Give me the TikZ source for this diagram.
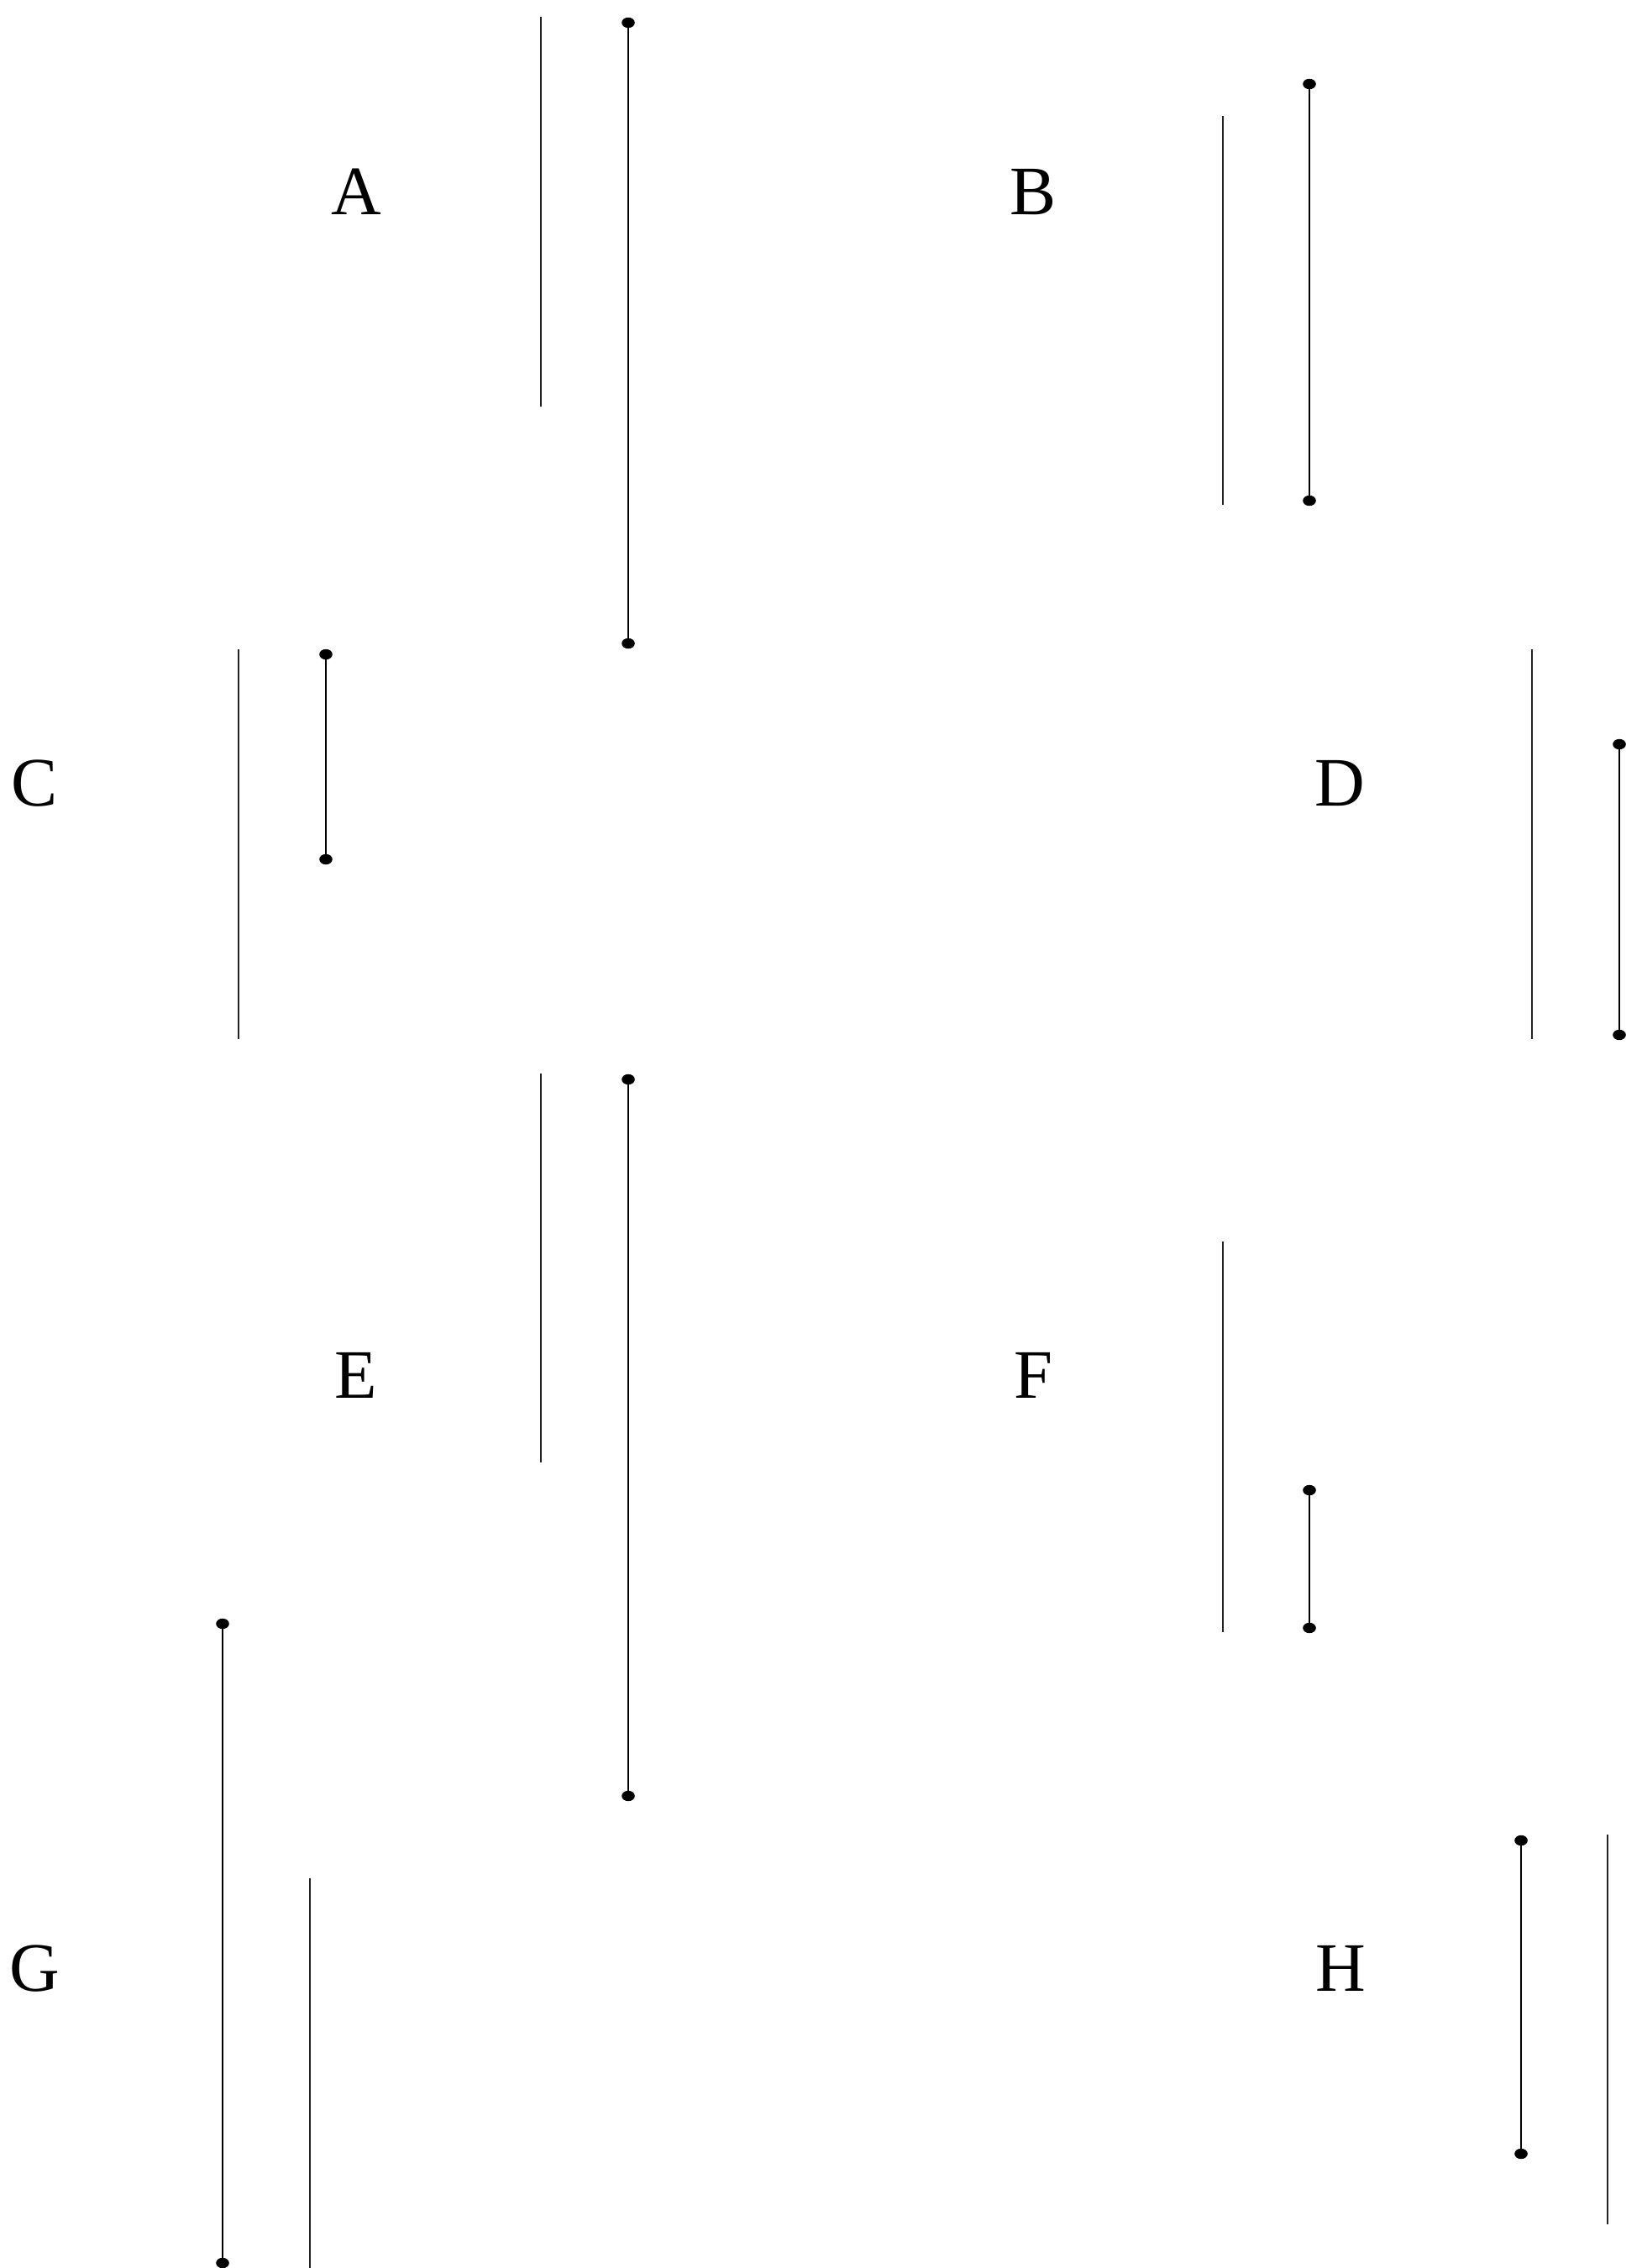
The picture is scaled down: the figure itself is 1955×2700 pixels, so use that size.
\documentclass[tikz,border=0pt]{standalone}
\usepackage{fontspec}
\setmainfont{Liberation Serif}
\usepackage{tikz}
\usetikzlibrary{positioning}
\definecolor{cBar}{RGB}{35,35,35}
\definecolor{cPin}{RGB}{0,0,0}

\tikzset{
  bar/.style={cBar,line width=0.6pt},
  pin/.style={cPin,line width=0.6pt},
  tag/.style={anchor=base,inner sep=0pt,font=\fontsize{23.5}{28}\selectfont},
}
\newcommand{\pinhead}[1]{\fill[cPin] (#1) ellipse [x radius=0.078cm, y radius=0.062cm];}

\begin{document}
\begin{tikzpicture}[x=0.01cm,y=-0.01cm]
  \useasboundingbox (0,0) rectangle (1955,2700);
  % top row: A and B
  \node[tag] (tA) at (424,255) {A};
  \coordinate (aBarT) at (644,20);   \coordinate (aBarB) at (644,484);
  \coordinate (aPinT) at (748,27);   \coordinate (aPinB) at (748,766);
  \draw[bar] (aBarT) -- (aBarB);
  \draw[pin] (aPinT) -- (aPinB);
  \pinhead{aPinT} \pinhead{aPinB}

  \node[tag] (tB) at (1230,255) {B};
  \coordinate (bBarT) at (1456,138); \coordinate (bBarB) at (1456,601);
  \coordinate (bPinT) at (1559,100); \coordinate (bPinB) at (1559,596);
  \draw[bar] (bBarT) -- (bBarB);
  \draw[pin] (bPinT) -- (bPinB);
  \pinhead{bPinT} \pinhead{bPinB}

  % second row: C and D
  \node[tag] (tC) at (41,959) {C};
  \coordinate (cBarT) at (284,773);  \coordinate (cBarB) at (284,1237);
  \coordinate (cPinT) at (388,779);  \coordinate (cPinB) at (388,1023);
  \draw[bar] (cBarT) -- (cBarB);
  \draw[pin] (cPinT) -- (cPinB);
  \pinhead{cPinT} \pinhead{cPinB}

  \node[tag] (tD) at (1595,959) {D};
  \coordinate (dBarT) at (1824,773); \coordinate (dBarB) at (1824,1237);
  \coordinate (dPinT) at (1928,886); \coordinate (dPinB) at (1928,1232);
  \draw[bar] (dBarT) -- (dBarB);
  \draw[pin] (dPinT) -- (dPinB);
  \pinhead{dPinT} \pinhead{dPinB}

  % third row: E and F
  \node[tag] (tE) at (424,1664) {E};
  \coordinate (eBarT) at (644,1278); \coordinate (eBarB) at (644,1741);
  \coordinate (ePinT) at (748,1285); \coordinate (ePinB) at (748,2138);
  \draw[bar] (eBarT) -- (eBarB);
  \draw[pin] (ePinT) -- (ePinB);
  \pinhead{ePinT} \pinhead{ePinB}

  \node[tag] (tF) at (1230,1664) {F};
  \coordinate (fBarT) at (1456,1478); \coordinate (fBarB) at (1456,1943);
  \coordinate (fPinT) at (1559,1774); \coordinate (fPinB) at (1559,1938);
  \draw[bar] (fBarT) -- (fBarB);
  \draw[pin] (fPinT) -- (fPinB);
  \pinhead{fPinT} \pinhead{fPinB}

  % bottom row: G and H, pin to the left of the bar
  \node[tag] (tG) at (41,2370) {G};
  \coordinate (gPinT) at (265,1933); \coordinate (gPinB) at (265,2694);
  \coordinate (gBarT) at (369,2236); \coordinate (gBarB) at (369,2700);
  \draw[pin] (gPinT) -- (gPinB);
  \draw[bar] (gBarT) -- (gBarB);
  \pinhead{gPinT} \pinhead{gPinB}

  \node[tag] (tH) at (1596,2370) {H};
  \coordinate (hPinT) at (1811,2191); \coordinate (hPinB) at (1811,2564);
  \coordinate (hBarT) at (1914,2184); \coordinate (hBarB) at (1914,2648);
  \draw[pin] (hPinT) -- (hPinB);
  \draw[bar] (hBarT) -- (hBarB);
  \pinhead{hPinT} \pinhead{hPinB}
\end{tikzpicture}
\end{document}
